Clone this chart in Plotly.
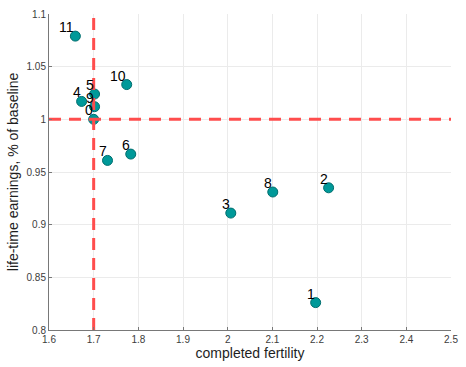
import plotly.graph_objects as go

labels = ["0", "1", "2", "3", "4", "5", "6", "7", "8", "9", "10", "11"]
fertility = [1.700, 2.197, 2.226, 2.007, 1.673, 1.702, 1.783, 1.731, 2.101, 1.702, 1.774, 1.659]
earnings = [1.000, 0.826, 0.935, 0.911, 1.017, 1.024, 0.967, 0.961, 0.931, 1.012, 1.033, 1.079]

x_ticks = [1.6, 1.7, 1.8, 1.9, 2.0, 2.1, 2.2, 2.3, 2.4, 2.5]
x_ticktext = ["1.6", "1.7", "1.8", "1.9", "2", "2.1", "2.2", "2.3", "2.4", "2.5"]
y_ticks = [0.8, 0.85, 0.9, 0.95, 1.0, 1.05, 1.1]
y_ticktext = ["0.8", "0.85", "0.9", "0.95", "1", "1.05", "1.1"]

baseline_x = 1.7
baseline_y = 1.0

fig = go.Figure()

fig.add_trace(go.Scatter(
    x=fertility, y=earnings, mode="markers",
    marker=dict(size=10, color="rgb(0,153,153)", line=dict(color="rgb(0,110,110)", width=1)),
    cliponaxis=False, showlegend=False,
))

red = "rgb(255,77,77)"
fig.add_trace(go.Scatter(x=[baseline_x, baseline_x], y=[0.8, 1.1], mode="lines",
                         line=dict(color=red, width=3, dash="12px,8px"),
                         hoverinfo="skip", showlegend=False, cliponaxis=False))
fig.add_trace(go.Scatter(x=[1.6, 2.5], y=[baseline_y, baseline_y], mode="lines",
                         line=dict(color=red, width=3, dash="12px,8px"),
                         hoverinfo="skip", showlegend=False, cliponaxis=False))

label_font = dict(family="Liberation Sans, Arial, sans-serif", size=14, color="black")
for xv, yv, lab in zip(fertility, earnings, labels):
    fig.add_annotation(x=xv, y=yv, text=lab, showarrow=False,
                       xanchor="right", yanchor="middle", xshift=1, yshift=9,
                       font=label_font)

axis_font = dict(family="Liberation Sans, Arial, sans-serif", size=10, color="rgb(60,60,60)")
fig.update_layout(
    width=466, height=367,
    margin=dict(l=49, r=8, t=8, b=35),
    plot_bgcolor="white", paper_bgcolor="white",
    xaxis=dict(range=[1.6, 2.5], tickvals=x_ticks, ticktext=x_ticktext,
               showgrid=True, gridcolor="rgb(235,235,235)", gridwidth=1,
               zeroline=False, showline=True, linecolor="rgb(120,120,120)", linewidth=1,
               ticks="inside", ticklen=3, tickcolor="rgb(120,120,120)",
               tickfont=axis_font,
               title=dict(text="completed fertility", standoff=4,
                          font=dict(family="Liberation Sans, Arial, sans-serif", size=14, color="rgb(30,30,30)"))),
    yaxis=dict(range=[0.8, 1.1], tickvals=y_ticks, ticktext=y_ticktext,
               showgrid=True, gridcolor="rgb(235,235,235)", gridwidth=1,
               zeroline=False, showline=True, linecolor="rgb(120,120,120)", linewidth=1,
               ticks="inside", ticklen=3, tickcolor="rgb(120,120,120)",
               tickfont=axis_font,
               title=dict(text="life-time earnings, % of baseline", standoff=4,
                          font=dict(family="Liberation Sans, Arial, sans-serif", size=14, color="rgb(30,30,30)"))),
)

fig.write_html("out.html", config={"displayModeBar": False},
               post_script="document.body.style.margin='0';document.body.style.overflow='hidden';")
